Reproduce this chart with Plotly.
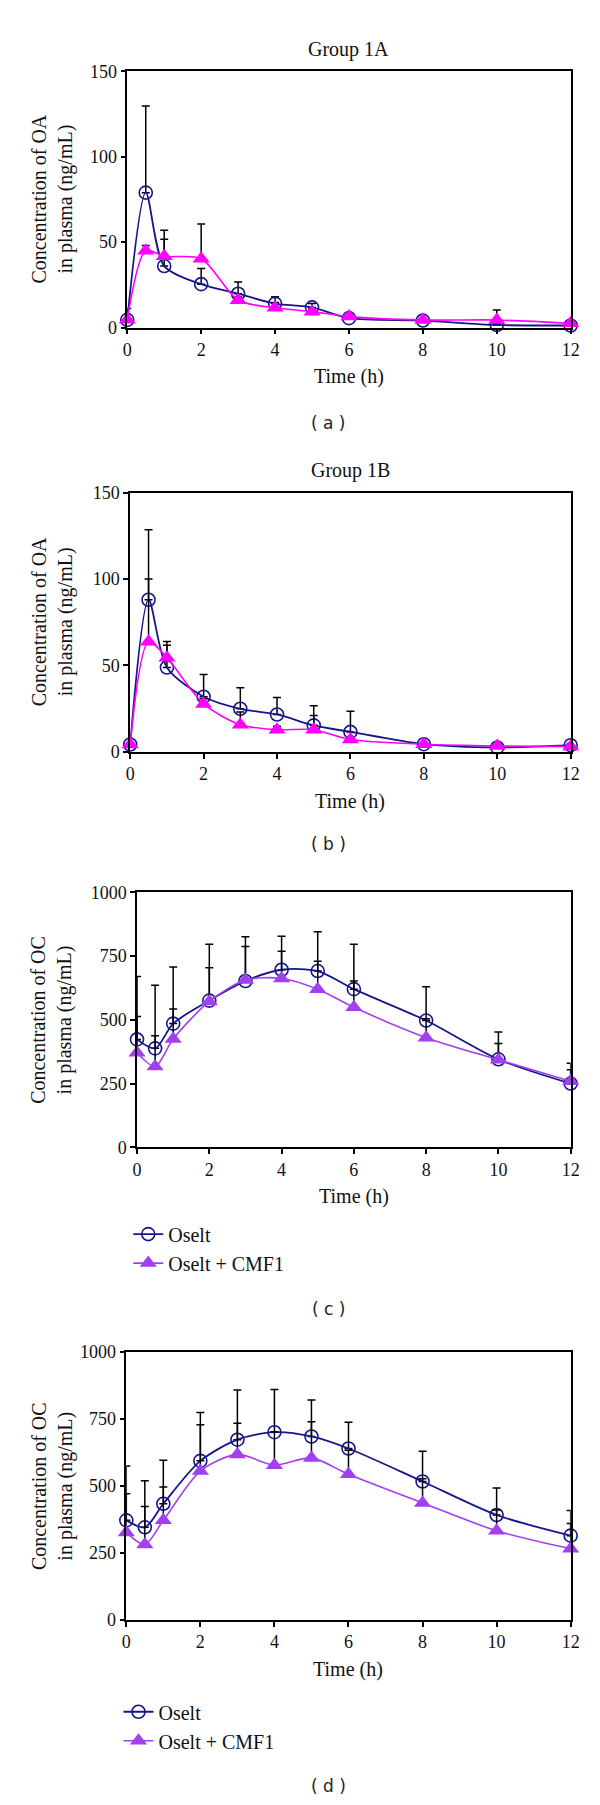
import plotly.graph_objects as go

W, H = 600, 1805

time_h = [0, 0.5, 1, 2, 3, 4, 5, 6, 8, 10, 12]

# Group 1A - OA
oselt_a = [4.5, 79, 36, 25.4, 19.8, 14, 11.8, 5.5, 4.1, 1.5, 1.2]
oselt_a_sd = [6.7, 50.8, 21, 9.1, 6.9, 4, 2.2, 1, 0.8, 0.8, 0.5]
cmf1_a = [4.5, 45, 41.7, 40.3, 16, 11.6, 9.3, 6.4, 4.4, 4.4, 2.5]
cmf1_a_sd = [1, 3, 10, 20.4, 2, 3, 2, 1, 1, 5.9, 0.5]

# Group 1B - OA
oselt_b = [4.2, 88, 48.8, 31.9, 24.9, 21.6, 15.3, 11.5, 4.4, 2.5, 3.8]
oselt_b_sd = [1, 40.5, 15.1, 12.8, 12.2, 9.8, 11.3, 12, 1, 1, 1]
cmf1_b = [4.2, 63.7, 54.5, 27.7, 15.7, 12.8, 12.8, 7.1, 4.4, 3.4, 3]
cmf1_b_sd = [1, 36.3, 7.1, 3, 7.3, 2, 8.2, 1, 1, 1, 0.5]

# OC panel c
oselt_c = [423, 388, 485, 575, 652, 696, 691, 620, 497, 345, 250]
oselt_c_sd = [247, 247, 222, 221, 173, 131, 154, 176, 132, 107, 80]
cmf1_c = [371, 317, 425, 572, 656, 662, 620, 549, 430, 343, 259]
cmf1_c_sd = [142, 120, 117, 132, 131, 107, 109, 103, 74, 64, 45]

# OC panel d
oselt_d = [372, 346, 434, 594, 673, 701, 685, 640, 517, 392, 315]
oselt_d_sd = [203, 174, 162, 180, 185, 159, 136, 98, 113, 101, 94]
cmf1_d = [327, 282, 372, 556, 618, 578, 605, 544, 437, 333, 266]
cmf1_d_sd = [144, 142, 124, 173, 116, 125, 135, 90, 90, 78, 94]

x_ticks = [0, 2, 4, 6, 8, 10, 12]
oa_ticks = [0, 50, 100, 150]
oc_ticks = [0, 250, 500, 750, 1000]

BLUE = "#16168c"
MAGENTA = "#ff00ff"
PURPLE = "#a23fef"
SERIF = "Liberation Serif"


def px(x):
    return x / W


def py(y):
    return 1 - y / H


def label(text, x, y, size=20, family=SERIF, angle=0, color="#111"):
    return dict(text=text, x=px(x), y=py(y), xref="paper", yref="paper",
                xanchor="center", yanchor="middle", showarrow=False, textangle=angle,
                font=dict(family=family, size=size, color=color))


# plot areas in pixels: left, right, top, bottom
panels = [
    dict(box=(117, 571, 54, 313), yr=[0, 150], yt=oa_ticks, title="Group 1A",
         ytitle="Concentration of OA<br>in plasma (ng/mL)", cap="( a )", capy=410,
         series=(oselt_a, oselt_a_sd, cmf1_a, cmf1_a_sd), pink=MAGENTA, legend=None),
    dict(box=(120, 571, 480, 742), yr=[0, 150], yt=oa_ticks, title="Group 1B",
         ytitle="Concentration of OA<br>in plasma (ng/mL)", cap="( b )", capy=835,
         series=(oselt_b, oselt_b_sd, cmf1_b, cmf1_b_sd), pink=MAGENTA, legend=None),
    dict(box=(127, 571, 884, 1142), yr=[0, 1000], yt=oc_ticks, title=None,
         ytitle="Concentration of OC<br>in plasma (ng/mL)", cap="( c )", capy=1305,
         series=(oselt_c, oselt_c_sd, cmf1_c, cmf1_c_sd), pink=PURPLE,
         legend=("legend", 118, 1210)),
    dict(box=(116, 571, 1349, 1620), yr=[0, 1000], yt=oc_ticks, title=None,
         ytitle="Concentration of OC<br>in plasma (ng/mL)", cap="( d )", capy=1788,
         series=(oselt_d, oselt_d_sd, cmf1_d, cmf1_d_sd), pink=PURPLE,
         legend=("legend2", 108, 1693)),
]

fig = go.Figure()
annotations = []
layout = dict(
    width=W, height=H, margin=dict(l=0, r=0, t=0, b=0),
    paper_bgcolor="white", plot_bgcolor="white",
    font=dict(family=SERIF, size=18, color="#111"),
)

for i, p in enumerate(panels):
    n = "" if i == 0 else str(i + 1)
    l, r, t, b = p["box"]
    axis_style = dict(showgrid=False, zeroline=False, showline=True, mirror=True,
                      linecolor="black", linewidth=1.5, ticks="outside", ticklen=5,
                      tickwidth=1.5, tickcolor="black", tickfont=dict(family=SERIF, size=18))
    layout["xaxis" + n] = dict(axis_style, domain=[px(l), px(r)], range=[0, 12],
                               tickvals=x_ticks, anchor="y" + n)
    layout["yaxis" + n] = dict(axis_style, domain=[py(b), py(t)], range=p["yr"],
                               tickvals=p["yt"], anchor="x" + n)

    o, o_sd, c, c_sd = p["series"]
    show = p["legend"] is not None
    leg = p["legend"][0] if show else "legend"
    zeros = [0] * len(time_h)
    fig.add_trace(go.Scatter(
        x=time_h, y=o, name="Oselt", xaxis="x" + n, yaxis="y" + n,
        mode="lines+markers", line=dict(color=BLUE, width=1.8, shape="spline", smoothing=0.8),
        marker=dict(symbol="circle-open", size=13, color=BLUE, line=dict(width=1.6)),
        error_y=dict(type="data", array=o_sd, arrayminus=zeros, symmetric=False,
                     color="black", thickness=1.5, width=4),
        cliponaxis=False, showlegend=show, legend=leg))
    fig.add_trace(go.Scatter(
        x=time_h, y=c, name="Oselt + CMF1", xaxis="x" + n, yaxis="y" + n,
        mode="lines+markers", line=dict(color=p["pink"], width=1.6, shape="spline", smoothing=0.8),
        marker=dict(symbol="triangle-up", size=15, color=p["pink"]),
        error_y=dict(type="data", array=c_sd, arrayminus=zeros, symmetric=False,
                     color="black", thickness=1.5, width=4),
        cliponaxis=False, showlegend=show, legend=leg))

    cx = (l + r) / 2
    if p["title"]:
        annotations.append(label(p["title"], cx, t - 22))
    annotations.append(label("Time (h)", cx, b + 50))
    annotations.append(label(p["ytitle"], 40, (t + b) / 2, angle=-90))
    annotations.append(label(p["cap"], 323, p["capy"], size=17, family="DejaVu Sans", color="#222"))
    if show:
        name, lx, ly = p["legend"]
        layout[name] = dict(x=px(lx), y=py(ly), xanchor="left", yanchor="top",
                            bgcolor="rgba(0,0,0,0)", font=dict(family=SERIF, size=20),
                            tracegroupgap=0, itemwidth=30)

layout["annotations"] = annotations
fig.update_layout(**layout)
fig.write_html("out.html")
